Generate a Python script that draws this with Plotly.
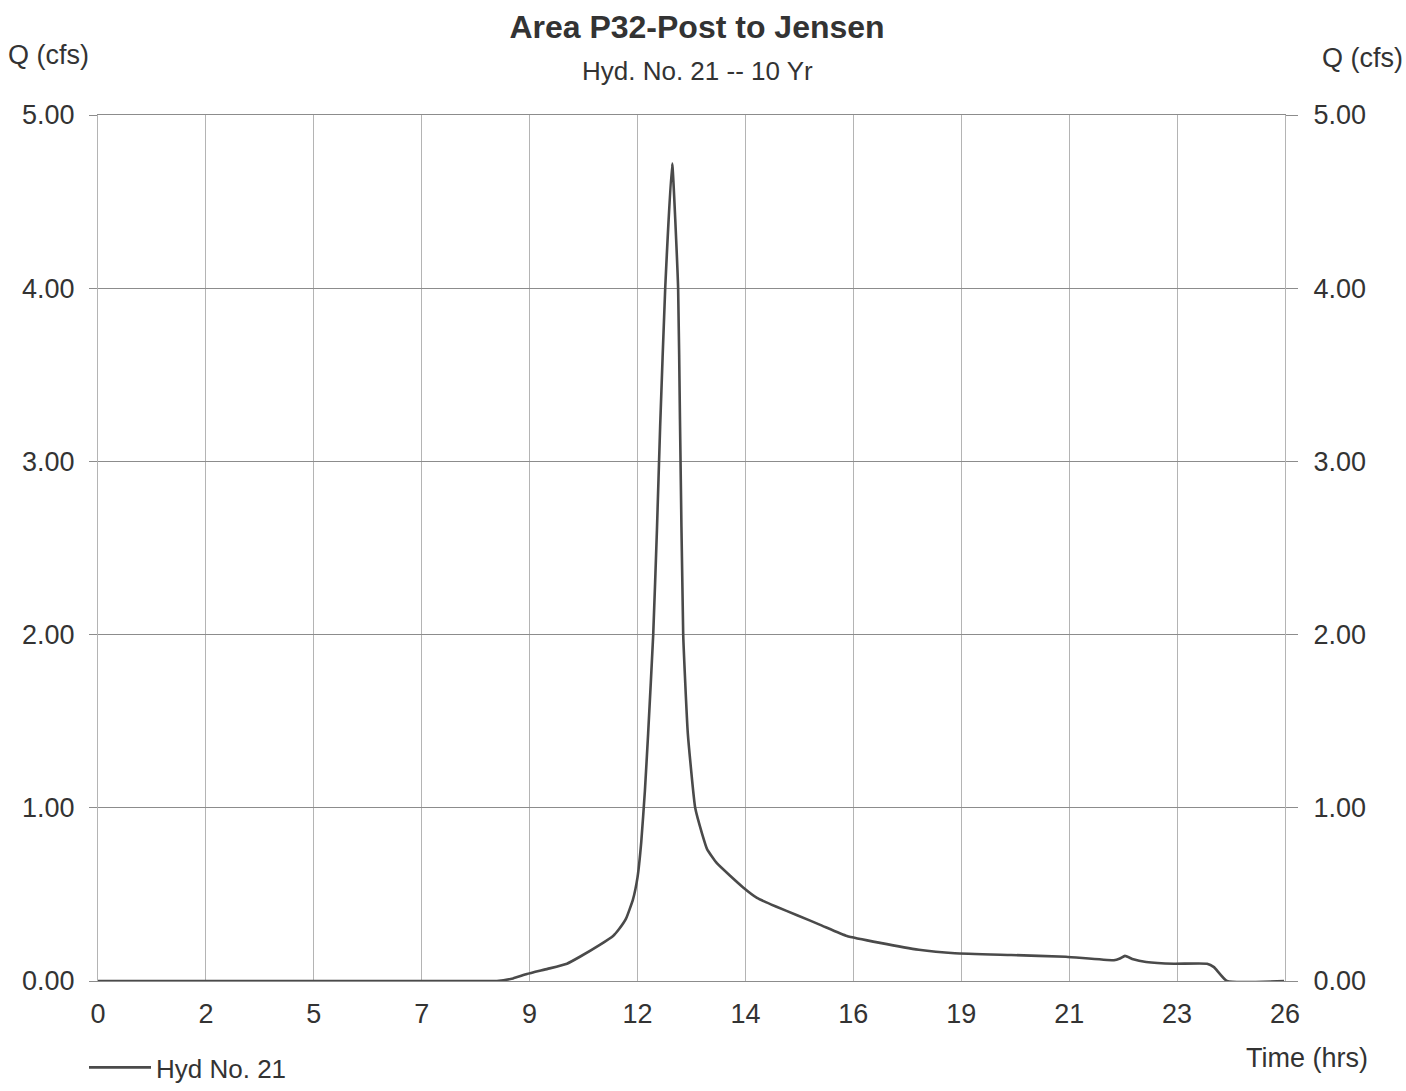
import plotly.graph_objects as go

# ---- data ----
time_hrs = [0, 2, 4, 6, 8, 8.65, 9.0, 9.30, 9.75, 10.17, 10.45, 10.89, 11.17, 11.30,
            11.45, 11.60, 11.70, 11.78, 11.86, 11.93, 12.04, 12.12, 12.19, 12.30,
            12.45, 12.58, 12.62, 12.69, 12.79, 12.95, 13.10, 13.21, 13.42, 13.99,
            14.29, 14.7, 15.16, 15.7, 16.24, 16.96, 17.8, 18.58, 19.8, 20.99,
            22.03, 22.16, 22.27, 22.45, 22.73, 23.33, 24.05, 24.20, 24.48, 25.72]
q_cfs = [0, 0, 0, 0, 0, 0, 0.015, 0.04, 0.07, 0.10, 0.14, 0.21, 0.26, 0.30,
         0.36, 0.47, 0.60, 0.80, 1.10, 1.43, 2.0, 2.6, 3.2, 4.0,
         4.72, 4.0, 3.24, 2.0, 1.43, 1.0, 0.85, 0.76, 0.68, 0.54,
         0.48, 0.43, 0.38, 0.32, 0.26, 0.22, 0.18, 0.16, 0.15, 0.14,
         0.12, 0.13, 0.145, 0.125, 0.11, 0.10, 0.10, 0.08, 0.0, 0.0]

x_step = 2.34
x_tick_labels = ["0", "2", "5", "7", "9", "12", "14", "16", "19", "21", "23", "26"]
x_tick_vals = [i * x_step for i in range(len(x_tick_labels))]
y_tick_vals = [0, 1, 2, 3, 4, 5]
y_tick_labels = ["0.00", "1.00", "2.00", "3.00", "4.00", "5.00"]

FONT = "Liberation Sans, Arial, sans-serif"
TXT = "#333333"
HGRID = "#8c8c8c"
VGRID = "#b4b4b4"
FS = 27

fig = go.Figure()
fig.add_trace(go.Scatter(
    x=time_hrs, y=q_cfs, mode="lines", name="Hyd No. 21",
    line=dict(color="#4a4a4a", width=2.6, shape="spline", smoothing=0.4),
))
# invisible helper so the right axis is drawn
fig.add_trace(go.Scatter(x=[0], y=[0], yaxis="y2", mode="markers",
                         marker=dict(opacity=0), showlegend=False, hoverinfo="skip"))

fig.update_layout(
    width=1406, height=1091,
    margin=dict(l=98, r=121, t=115, b=110, autoexpand=False),
    paper_bgcolor="white", plot_bgcolor="white",
    font=dict(family=FONT, color=TXT, size=FS),
    title=dict(text="<b>Area P32-Post to Jensen</b>", x=697 / 1406, xanchor="center",
               y=1 - 27 / 1091, yanchor="middle", font=dict(size=32, color=TXT)),
    xaxis=dict(range=[0, x_tick_vals[-1]], tickvals=x_tick_vals, ticktext=x_tick_labels,
               showgrid=True, gridcolor=VGRID, gridwidth=1, zeroline=False,
               showline=True, mirror=True, linecolor=HGRID, linewidth=1,
               ticks="", ticklabelstandoff=9,
               tickfont=dict(size=FS, color=TXT)),
    yaxis=dict(range=[0, 5], tickvals=y_tick_vals, ticktext=y_tick_labels,
               showgrid=True, gridcolor=HGRID, gridwidth=1, zeroline=False,
               showline=True, mirror=True, linecolor=VGRID, linewidth=1,
               ticks="outside", ticklen=8, tickcolor=HGRID,
               ticklabelstandoff=9, tickfont=dict(size=FS, color=TXT)),
    yaxis2=dict(range=[0, 5], tickvals=y_tick_vals, ticktext=y_tick_labels,
                overlaying="y", side="right", showgrid=False, zeroline=False,
                showline=False, ticks="outside", ticklen=12, tickcolor=HGRID,
                ticklabelstandoff=10, tickfont=dict(size=FS, color=TXT)),
    showlegend=True,
    legend=dict(xref="container", yref="container", x=84 / 1406, y=0,
                xanchor="left", yanchor="bottom", bgcolor="rgba(0,0,0,0)",
                font=dict(size=26, color=TXT), itemwidth=62, tracegroupgap=0),
    annotations=[
        dict(text="Hyd. No. 21 -- 10 Yr", xref="paper", yref="paper",
             x=(698 - 98) / 1187, y=1 + (115 - 71) / 866, showarrow=False,
             xanchor="center", yanchor="middle", font=dict(size=26, color=TXT)),
        dict(text="Q (cfs)", xref="paper", yref="paper",
             x=-(98 - 6) / 1187, y=1 + (115 - 55) / 866, showarrow=False,
             xanchor="left", yanchor="middle", font=dict(size=FS, color=TXT)),
        dict(text="Q (cfs)", xref="paper", yref="paper",
             x=(1320 - 98) / 1187, y=1 + (115 - 58) / 866, showarrow=False,
             xanchor="left", yanchor="middle", font=dict(size=FS, color=TXT)),
        dict(text="Time (hrs)", xref="paper", yref="paper",
             x=(1370 - 98) / 1187, y=-(1058 - 981) / 866, showarrow=False,
             xanchor="right", yanchor="middle", font=dict(size=FS, color=TXT)),
    ],
)

fig.write_html("out.html")
